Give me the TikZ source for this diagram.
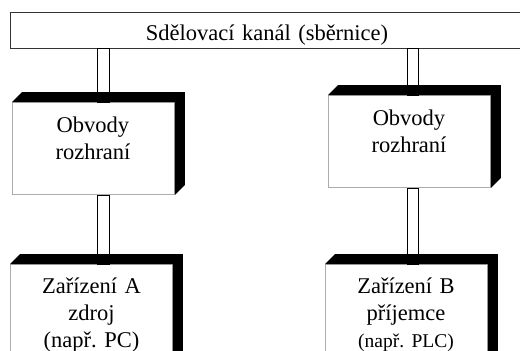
\documentclass[tikz,border=0pt]{standalone}
\usepackage{fontspec}
\setmainfont{Liberation Serif}
\usetikzlibrary{calc}
\frenchspacing
\begin{document}
\begin{tikzpicture}[x=1pt,y=-1pt,
  front/.style={draw=gray!65, fill=white, line width=0.9pt, minimum width=162pt, minimum height=92pt, inner sep=0pt, anchor=north west},
  busbox/.style={draw=black!80, fill=white, line width=0.8pt, minimum width=514pt, minimum height=36pt, inner sep=0pt, anchor=north west},
  lbl/.style={font=\fontsize{22.5}{27}\selectfont, text width=170pt, align=center, inner sep=0pt, anchor=base},
  pipe/.style={draw=black, fill=white, line width=0.8pt},
  face/.style={fill=black}
]
\useasboundingbox (0,0) rectangle (520,351);
\clip (0,0) rectangle (520,351);
% bus
\node[busbox] (bus) at (10,12) {};
\node[lbl, text width=400pt] (bust) at (267,40) {Sdělovací kanál (sběrnice)};
% front faces
\node[front] (b1) at (12,102) {};
\node[front] (b2) at (328,95) {};
\node[front, minimum height=120pt] (b3) at (10,264) {};
\node[front, minimum height=120pt] (b4) at (325,264) {};
% pipes
\draw[pipe] (bus.south -| 97,0) rectangle (b1.north -| 109,0);
\draw[pipe] (bus.south -| 407,0) rectangle (b2.north -| 418,0);
\draw[pipe] (b1.south -| 97,0) rectangle (b3.north -| 109,0);
\draw[pipe] (b2.south -| 407,0) rectangle (b4.north -| 418,0);
% 3D faces
\foreach \n in {b1,b2,b3,b4}{
  \fill[face] (\n.north west) -- ++(10,-10) -- ($(\n.north east)+(10,-10)$)
    -- ($(\n.south east)+(10,-10)$) -- (\n.south east) -- (\n.north east) -- cycle;
}
% labels
\node[lbl] (b1t) at (93,132) {Obvody\\rozhraní};
\node[lbl] (b2t) at (409,125) {Obvody\\rozhraní};
\node[lbl] (b3t) at (91.5,293) {Zařízení A\\zdroj\\(např. PC)};
\node[lbl] (b4t) at (406,293) {Zařízení B\\příjemce\\{\fontsize{19.5}{27}\selectfont (např. PLC)}};
\end{tikzpicture}
\end{document}
